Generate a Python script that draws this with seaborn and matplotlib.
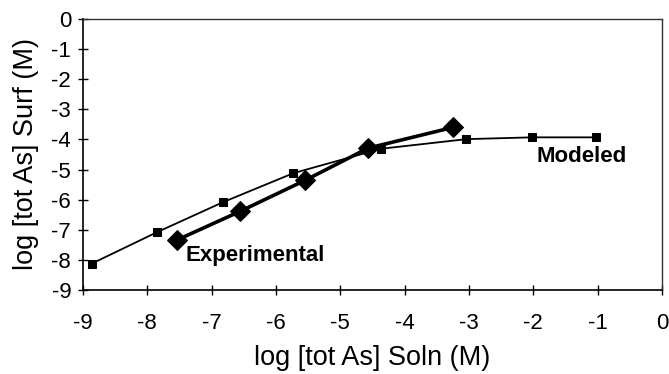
import matplotlib
matplotlib.use("Agg")
import matplotlib.pyplot as plt
import seaborn as sns
import pandas as pd

# Data
modeled_x = [-8.86, -7.85, -6.82, -5.73, -4.37, -3.04, -2.02, -1.02]
modeled_y = [-8.12, -7.08, -6.08, -5.12, -4.31, -3.99, -3.93, -3.93]
exp_x = [-7.54, -6.56, -5.55, -4.57, -3.25]
exp_y = [-7.34, -6.39, -5.36, -4.29, -3.60]
x_ticks = [-9, -8, -7, -6, -5, -4, -3, -2, -1, 0]
y_ticks = [0, -1, -2, -3, -4, -5, -6, -7, -8, -9]

sns.set_style("white")
plt.rcParams['font.family'] = ['Liberation Sans', 'DejaVu Sans']
plt.rcParams['text.color'] = 'black'
plt.rcParams['axes.labelcolor'] = 'black'

fig = plt.figure(figsize=(6.69, 3.74), dpi=100)
ax = fig.add_axes([83/669, 1-290/374, (662-83)/669, (290-19)/374])

dm = pd.DataFrame({"x": modeled_x, "y": modeled_y})
de = pd.DataFrame({"x": exp_x, "y": exp_y})

sns.lineplot(data=dm, x="x", y="y", sort=False, ax=ax, color="black",
             linewidth=1.3, marker="s", markersize=5.5, markeredgecolor="black")
sns.lineplot(data=de, x="x", y="y", sort=False, ax=ax, color="black",
             linewidth=2.6, marker="D", markersize=10, markeredgecolor="black")

ax.set_xlim(-9, 0)
ax.set_ylim(-9, 0)
ax.set_xticks(x_ticks)
ax.set_yticks(y_ticks)
ax.set_xticklabels([str(t) for t in x_ticks])
ax.set_yticklabels([str(t) for t in y_ticks])
ax.tick_params(axis="both", direction="inout", length=7, width=1, labelsize=16,
               color="black", labelcolor="black", bottom=True, left=True)
ax.tick_params(axis="x", pad=13)
ax.tick_params(axis="y", pad=5)

for side in ["left", "bottom"]:
    ax.spines[side].set_color("black")
    ax.spines[side].set_linewidth(1.2)
for side in ["top", "right"]:
    ax.spines[side].set_color("#333333")
    ax.spines[side].set_linewidth(1.0)

ax.set_xlabel("log [tot As] Soln (M)", fontsize=19.5, labelpad=8)
ax.set_ylabel("log [tot As] Surf (M)", fontsize=19.5, labelpad=9)

ax.text(-6.32, -7.84, "Experimental", fontsize=16, fontweight="bold",
        ha="center", va="center")
ax.text(-1.25, -4.58, "Modeled", fontsize=16, fontweight="bold",
        ha="center", va="center")

fig.savefig("out.png", dpi=100)
